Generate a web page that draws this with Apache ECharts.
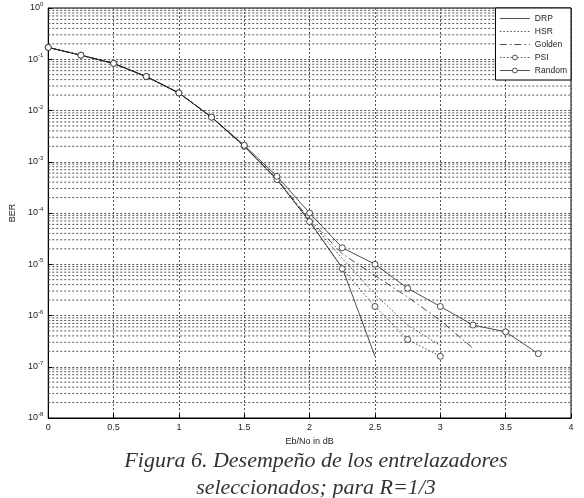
<!DOCTYPE html>
<html><head><meta charset="utf-8">
<script src="https://cdn.jsdelivr.net/npm/echarts@6/dist/echarts.min.js"></script>
<style>html,body{margin:0;padding:0;background:#fff}#c{width:584px;height:498px}</style>
</head><body><div id="c"></div>
<script>
const xTickLabels = ['0','0.5','1','1.5','2','2.5','3','3.5','4'];
const drpX = [0,0.25,0.5,0.75,1,1.25,1.5,1.75,2,2.25,2.5];
const drpY = [0.17,0.12,0.083,0.046,0.022,0.0074,0.0020,4.5e-4,6.8e-5,8.5e-6,1.6e-7];
const hsrX = [0,0.25,0.5,0.75,1,1.25,1.5,1.75,2,2.25,2.5,2.75,3];
const hsrY = [0.17,0.12,0.083,0.046,0.022,0.0074,0.0020,4.5e-4,7.0e-5,1.3e-5,2.6e-6,6.5e-7,2.6e-7];
const goldenX = [0,0.25,0.5,0.75,1,1.25,1.5,1.75,2,2.25,2.5,2.75,3,3.25];
const goldenY = [0.17,0.12,0.083,0.046,0.022,0.0074,0.0020,4.6e-4,7.5e-5,1.6e-5,6.0e-6,2.3e-6,8.0e-7,2.3e-7];
const psiX = [0,0.25,0.5,0.75,1,1.25,1.5,1.75,2,2.25,2.5,2.75,3];
const psiY = [0.17,0.12,0.083,0.046,0.022,0.0074,0.0020,4.5e-4,6.8e-5,8.2e-6,1.5e-6,3.4e-7,1.6e-7];
const randomX = [0,0.25,0.5,0.75,1,1.25,1.5,1.75,2,2.25,2.5,2.75,3,3.25,3.5,3.75];
const randomY = [0.17,0.12,0.083,0.046,0.022,0.0074,0.0021,5.2e-4,1.0e-4,2.1e-5,1.0e-5,3.4e-6,1.5e-6,6.5e-7,4.8e-7,1.8e-7];
const seriesNames = ['DRP','HSR','Golden','PSI','Random'];
const captionLines = ['Figura 6. Desempeño de los entrelazadores','seleccionados; para R=1/3'];

const pairs = (xs, ys) => xs.map((x, i) => [x, ys[i]]);
const minorVals = [];
for (let e = -8; e < 0; e++) for (let m = 2; m <= 9; m++) minorVals.push(m * Math.pow(10, e));

const gridLine = {color: '#555', width: 1, type: [2, 2]};
const chart = echarts.init(document.getElementById('c'), null, {renderer: 'canvas'});
const lineBase = (name, data, dash, sym) => ({
  name, type: 'line', data,
  symbol: sym ? 'circle' : 'none', symbolSize: 6, showSymbol: !!sym,
  lineStyle: {color: '#222', width: 0.8, type: dash},
  itemStyle: {color: '#fff', borderColor: '#222', borderWidth: 0.8},
  animation: false, z: 3
});
const hiddenIcon = {color: 'rgba(0,0,0,0)', borderColor: 'rgba(0,0,0,0)', borderWidth: 0};
const minorSeries = minorVals.map(v => ({
  type: 'line', data: [[0, v], [4, v]], symbol: 'none', silent: true, z: 1,
  lineStyle: gridLine, animation: false
}));
chart.setOption({
  animation: false,
  graphic: captionLines.map((t, i) => ({
    type: 'text', x: 316, y: 450 + i * 27,
    style: {text: t, font: 'italic 22px "Liberation Serif", serif', fill: '#333', textAlign: 'center'}
  })),
  grid: {left: 35, right: 13, top: 8, bottom: 80, show: true, borderColor: '#000', borderWidth: 1},
  legend: {
    right: 13, top: 8, orient: 'vertical', itemWidth: 30, itemHeight: 6, itemGap: 4,
    backgroundColor: '#fff', borderColor: '#000', borderWidth: 1, borderRadius: 0,
    padding: [6, 4, 5, 4],
    lineStyle: {width: 0.8},
    textStyle: {fontFamily: 'Arial, Liberation Sans', fontSize: 8.5, color: '#222'},
    data: [
      {name: 'DRP', itemStyle: hiddenIcon},
      {name: 'HSR', itemStyle: hiddenIcon},
      {name: 'Golden', itemStyle: hiddenIcon},
      {name: 'PSI', itemStyle: {borderWidth: 0.8}},
      {name: 'Random', itemStyle: {borderWidth: 0.8}}
    ]
  },
  xAxis: {
    type: 'value', min: 0, max: 4, interval: 0.5,
    name: 'Eb/No in dB', nameLocation: 'middle', nameGap: 17,
    nameTextStyle: {fontFamily: 'Arial, Liberation Sans', fontSize: 9, color: '#222'},
    axisLine: {show: true, lineStyle: {color: '#000'}},
    axisTick: {show: true, inside: true, length: 4, lineStyle: {color: '#000'}},
    axisLabel: {fontFamily: 'Arial, Liberation Sans', fontSize: 9, color: '#222', margin: 5,
      formatter: v => xTickLabels[Math.round(v * 2)]},
    splitLine: {show: true, lineStyle: gridLine}
  },
  yAxis: {
    type: 'log', logBase: 10, min: 1e-8, max: 1, interval: 1,
    name: 'BER', nameLocation: 'middle', nameGap: 24, nameRotate: 90,
    nameTextStyle: {fontFamily: 'Arial, Liberation Sans', fontSize: 9, color: '#222'},
    axisLine: {show: true, lineStyle: {color: '#000'}},
    axisTick: {show: true, inside: true, length: 4, lineStyle: {color: '#000'}},
    axisLabel: {
      margin: 5,
      formatter: v => '{b|10}{s|' + Math.round(Math.log10(v)) + '}',
      rich: {
        b: {fontFamily: 'Arial, Liberation Sans', fontSize: 9, color: '#222'},
        s: {fontFamily: 'Arial, Liberation Sans', fontSize: 6, color: '#222', verticalAlign: 'bottom', padding: [0,0,7,0]}
      }
    },
    splitLine: {show: true, lineStyle: gridLine}
  },
  series: [
    lineBase('DRP', pairs(drpX, drpY), 'solid', false),
    lineBase('HSR', pairs(hsrX, hsrY), [1.5, 2], false),
    lineBase('Golden', pairs(goldenX, goldenY), [7, 3, 1.5, 3], false),
    lineBase('PSI', pairs(psiX, psiY), [1.5, 2], true),
    lineBase('Random', pairs(randomX, randomY), 'solid', true)
  ].concat(minorSeries)
});
</script></body></html>
